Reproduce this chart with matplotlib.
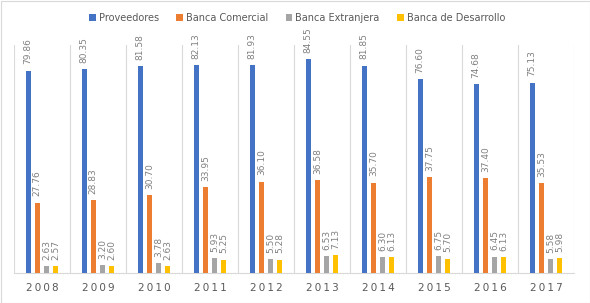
import matplotlib
matplotlib.use("Agg")
import matplotlib.pyplot as plt
import numpy as np

years = ["2008", "2009", "2010", "2011", "2012", "2013", "2014", "2015", "2016", "2017"]
series_names = ["Proveedores", "Banca Comercial", "Banca Extranjera", "Banca de Desarrollo"]
proveedores = [79.86, 80.35, 81.58, 82.13, 81.93, 84.55, 81.85, 76.60, 74.68, 75.13]
banca_comercial = [27.76, 28.83, 30.70, 33.95, 36.10, 36.58, 35.70, 37.75, 37.40, 35.53]
banca_extranjera = [2.63, 3.20, 3.78, 5.93, 5.50, 6.53, 6.30, 6.75, 6.45, 5.58]
banca_desarrollo = [2.57, 2.60, 2.63, 5.25, 5.28, 7.13, 6.13, 5.70, 6.13, 5.98]
colors = ["#4472C4", "#ED7D31", "#A5A5A5", "#FFC000"]

data = [proveedores, banca_comercial, banca_extranjera, banca_desarrollo]

fig = plt.figure(figsize=(5.9, 3.03), dpi=100)
ax = fig.add_axes([14/590, 1 - 273/303, 560/590, 228/303])

x = np.arange(len(years))
step = 0.166
width = 0.09
txt = "#808080"
for i, (vals, c, name) in enumerate(zip(data, colors, series_names)):
    pos = x + (i - 1.5) * step
    ax.bar(pos, vals, width=width, color=c, label=name, zorder=3)
    for p, v in zip(pos, vals):
        ax.annotate(f"{v:.2f}", (p, v), xytext=(0, 4.5), textcoords="offset points",
                    rotation=90, ha="center", va="bottom", fontsize=6.5, color=txt)

ax.set_xlim(-0.5, len(years) - 0.5)
ax.set_ylim(0, 90)
ax.set_yticks([])
ax.set_xticks(x)
ax.set_xticklabels(["\u2009".join(y) for y in years], fontsize=7.5, color="#595959")
ax.tick_params(axis="x", length=0, pad=7)
ax.set_xticks(np.arange(-0.5, len(years), 1), minor=True)
ax.tick_params(axis="x", which="minor", length=0)
ax.grid(True, axis="x", which="minor", color="#D9D9D9", linewidth=0.8, zorder=0)
for s in ["top", "right", "left"]:
    ax.spines[s].set_visible(False)
ax.spines["bottom"].set_color("#D9D9D9")
ax.spines["bottom"].set_linewidth(0.8)

leg = fig.legend(loc="center", bbox_to_anchor=(297/590, 1 - 18/303), ncol=4, frameon=False,
                 fontsize=7, handlelength=0.7, handleheight=0.7, handletextpad=0.3,
                 columnspacing=1.8)
for t in leg.get_texts():
    t.set_color("#595959")

fig.patches.append(plt.Rectangle((0.5/590, 0.5/303), 1 - 1/590, 1 - 1/303, transform=fig.transFigure,
                                 fill=False, edgecolor="#D9D9D9", linewidth=0.8))
fig.savefig("out.png", dpi=100)
